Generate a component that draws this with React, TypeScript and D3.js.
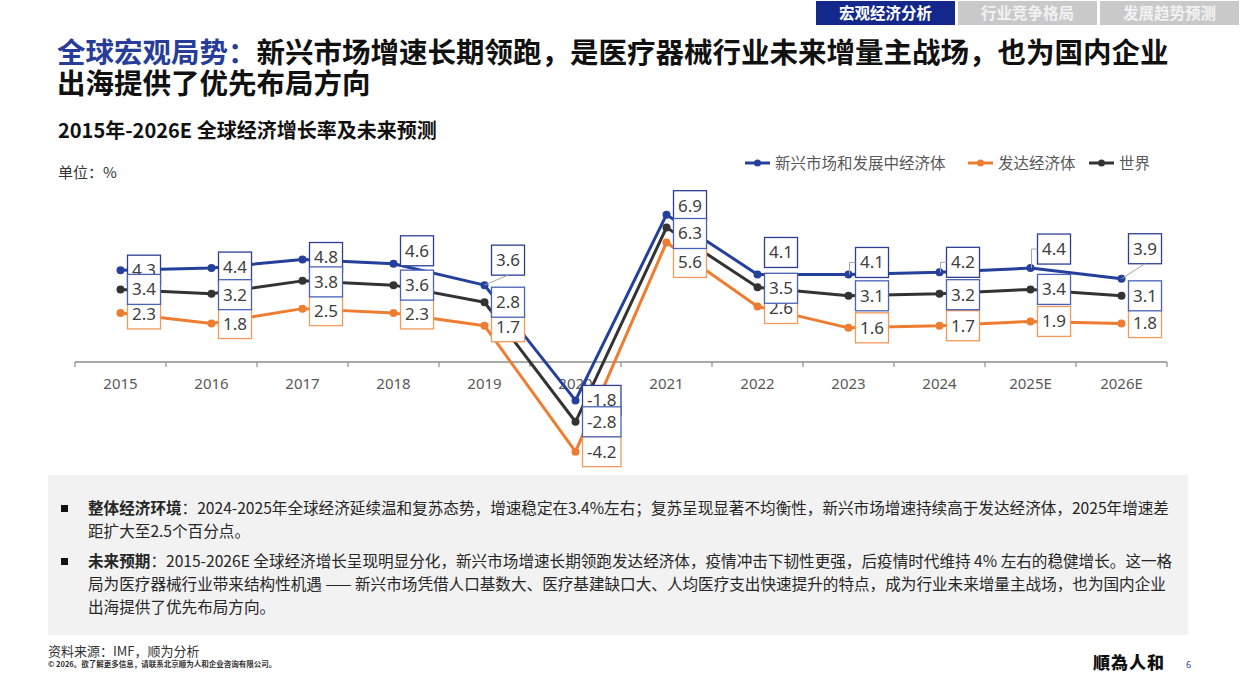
import React, { useEffect, useRef } from "react";
import * as d3 from "d3";

const years = ["2015", "2016", "2017", "2018", "2019", "2020", "2021", "2022", "2023", "2024", "2025E", "2026E"];
const emerging = [4.3, 4.4, 4.8, 4.6, 3.6, -1.8, 6.9, 4.1, 4.1, 4.2, 4.4, 3.9];
const developed = [2.3, 1.8, 2.5, 2.3, 1.7, -4.2, 5.6, 2.6, 1.6, 1.7, 1.9, 1.8];
const world = [3.4, 3.2, 3.8, 3.6, 2.8, -2.8, 6.3, 3.5, 3.1, 3.2, 3.4, 3.1];
const seriesNames = ["新兴市场和发展中经济体", "发达经济体", "世界"];

// label placement (vertical nudges as in the source deck)
const emergingLabelDy = [0, -1, -2, -13, -25, 0, -9, -22, -12, -10, -19, -30];
const emergingLeader = ["", "", "", "", "diag", "", "", "", "elbow", "elbow", "elbow", "diag"];
const developedLabelDy = [1, 0, 2, 1, 1, 0, 20, 2, 0, 0, 0, -1];
const worldLabelDy = [0, 1, 1, 0, 0, 0, 6, 1, 0, 1, 0, 0];

const tabs = ["宏观经济分析", "行业竞争格局", "发展趋势预测"];

const BLUE = "#24409b";
const ORANGE = "#ee7d31";
const BLACK = "#333333";
const CJK = '"Noto Sans CJK SC", "Noto Sans", sans-serif';

const App = () => {
	const chartRef = useRef<SVGGElement>(null);

	useEffect(() => {
		const g = d3.select(chartRef.current);
		g.selectAll("*").remove();

		const x = d3.scaleBand().domain(years).range([75, 1167]).padding(0);
		const cx = (d: string) => (x(d) as number) + x.bandwidth() / 2;
		const y = d3.scaleLinear().domain([-5, 8]).range([362 + 5 * 21.35, 362 - 8 * 21.35]);

		// axis
		g.append("line")
			.attr("x1", 75)
			.attr("x2", 1167)
			.attr("y1", y(0))
			.attr("y2", y(0))
			.attr("stroke", "#8c8c8c")
			.attr("stroke-width", 1.5);
		const bounds = years.map((d) => x(d) as number).concat([1167]);
		g.selectAll(".tick")
			.data(bounds)
			.enter()
			.append("line")
			.attr("x1", (d) => d)
			.attr("x2", (d) => d)
			.attr("y1", y(0))
			.attr("y2", y(0) + 5)
			.attr("stroke", "#8c8c8c")
			.attr("stroke-width", 1.2);
		g.selectAll(".xlab")
			.data(years)
			.enter()
			.append("text")
			.attr("x", cx)
			.attr("y", 389)
			.attr("text-anchor", "middle")
			.style("font-family", '"Noto Sans", sans-serif')
			.style("font-size", "15px")
			.style("fill", "#595959")
			.text((d) => d);

		const series = [
			{ values: emerging, color: BLUE, box: "#2c3f95", dy: emergingLabelDy },
			{ values: developed, color: ORANGE, box: "#f29a5a", dy: developedLabelDy },
			{ values: world, color: BLACK, box: "#4a63b8", dy: worldLabelDy },
		];

		const line = d3
			.line<number>()
			.x((_, i) => cx(years[i]))
			.y((d) => y(d));

		series.forEach((s) => {
			g.append("path")
				.attr("d", line(s.values))
				.attr("fill", "none")
				.attr("stroke", s.color)
				.attr("stroke-width", 3)
				.attr("stroke-linejoin", "round");
			g.selectAll(null)
				.data(s.values)
				.enter()
				.append("circle")
				.attr("cx", (_, i) => cx(years[i]))
				.attr("cy", (d) => y(d))
				.attr("r", 4)
				.attr("fill", s.color);
		});

		// data labels
		series.forEach((s, si) => {
			s.values.forEach((v, i) => {
				const px = cx(years[i]);
				const py = y(v);
				const lg = g.append("g");
				const t = lg
					.append("text")
					.attr("y", py + s.dy[i])
					.attr("dy", "0.35em")
					.style("font-family", '"Noto Sans", sans-serif')
					.style("font-size", "17px")
					.style("fill", "#404040")
					.text(v.toFixed(1));
				const w = (t.node() as SVGTextElement).getComputedTextLength() + 9;
				const left = px + 7;
				const top = py + s.dy[i] - 15;
				t.attr("x", left + w / 2).attr("text-anchor", "middle");
				if (si === 0 && emergingLeader[i]) {
					const path =
						emergingLeader[i] === "diag"
							? `M${px},${py}L${left + w / 2},${top + 30}`
							: `M${px + 1},${py}L${px + 1},${top + 15}L${left},${top + 15}`;
					lg.append("path")
						.attr("d", path)
						.attr("fill", "none")
						.attr("stroke", "#a6a6a6")
						.attr("stroke-width", 1);
				}
				lg.insert("rect", "text")
					.attr("x", left)
					.attr("y", top)
					.attr("width", w)
					.attr("height", 30)
					.attr("fill", "#fff")
					.attr("stroke", s.box)
					.attr("stroke-width", 1.3);
			});
		});
	}, []);

	const legend = [
		{ name: seriesNames[0], color: BLUE, x: 745 },
		{ name: seriesNames[1], color: ORANGE, x: 968 },
		{ name: seriesNames[2], color: BLACK, x: 1089 },
	];

	const bodyStyle = { fontFamily: CJK, fontSize: "15.6px", fill: "#262626" } as const;

	return (
		<svg
			width={1240}
			height={697}
			style={{ position: "absolute", left: 0, top: 0, background: "#fff" }}>
			{/* tabs */}
			{tabs.map((t, i) => (
				<g key={t}>
					<rect x={816 + i * 142} y={1} width={139} height={24} fill={i === 0 ? "#13288a" : "#c9c9c9"} />
					<text
						x={816 + i * 142 + 69.5}
						y={19}
						textAnchor="middle"
						style={{ fontFamily: CJK, fontSize: "15.5px", fontWeight: 700, fill: i === 0 ? "#fff" : "#f2f2f2" }}>
						{t}
					</text>
				</g>
			))}

			{/* title */}
			<text x={57} y={63} style={{ fontFamily: CJK, fontSize: "28.5px", fontWeight: 700, fill: "#111" }}>
				<tspan fill="#283c9a">全球宏观局势：</tspan>新兴市场增速长期领跑，是医疗器械行业未来增量主战场，也为国内企业
			</text>
			<text x={57} y={94} style={{ fontFamily: CJK, fontSize: "28.5px", fontWeight: 700, fill: "#111" }}>
				出海提供了优先布局方向
			</text>
			<text x={58} y={138} style={{ fontFamily: CJK, fontSize: "20px", fontWeight: 700, fill: "#111" }}>
				2015年-2026E 全球经济增长率及未来预测
			</text>
			<text x={58} y={178} style={{ fontFamily: CJK, fontSize: "15px", fill: "#333" }}>
				单位：%
			</text>

			{/* legend */}
			{legend.map((l) => (
				<g key={l.name}>
					<line x1={l.x} x2={l.x + 25} y1={163} y2={163} stroke={l.color} strokeWidth={3} />
					<circle cx={l.x + 12.5} cy={163} r={3.5} fill={l.color} />
					<text x={l.x + 30} y={168.5} style={{ fontFamily: CJK, fontSize: "15.5px", fill: "#595959" }}>
						{l.name}
					</text>
				</g>
			))}

			<g ref={chartRef} />

			{/* commentary box */}
			<rect x={48} y={475} width={1140} height={160} fill="#f2f2f2" />
			<rect x={61} y={505} width={7} height={7} fill="#111" />
			<rect x={61} y={558} width={7} height={7} fill="#111" />
			<text x={88} y={514} style={bodyStyle}>
				<tspan fontWeight={700}>整体经济环境</tspan>：2024-2025年全球经济延续温和复苏态势，增速稳定在3.4%左右；复苏呈现显著不均衡性，新兴市场增速持续高于发达经济体，2025年增速差
			</text>
			<text x={88} y={537} style={bodyStyle}>
				距扩大至2.5个百分点。
			</text>
			<text x={88} y={567} style={bodyStyle}>
				<tspan fontWeight={700}>未来预期</tspan>：2015-2026E 全球经济增长呈现明显分化，新兴市场增速长期领跑发达经济体，疫情冲击下韧性更强，后疫情时代维持 4% 左右的稳健增长。这一格
			</text>
			<text x={88} y={590} style={bodyStyle}>
				局为医疗器械行业带来结构性机遇 —— 新兴市场凭借人口基数大、医疗基建缺口大、人均医疗支出快速提升的特点，成为行业未来增量主战场，也为国内企业
			</text>
			<text x={88} y={613} style={bodyStyle}>
				出海提供了优先布局方向。
			</text>

			{/* footer */}
			<text x={48} y={656} style={{ fontFamily: CJK, fontSize: "13px", fill: "#333" }}>
				资料来源：IMF，顺为分析
			</text>
			<text x={48} y={667} style={{ fontFamily: CJK, fontSize: "7.5px", fontWeight: 700, fill: "#333" }}>
				© 2026。欲了解更多信息，请联系北京顺为人和企业咨询有限公司。
			</text>
			<text x={1093} y={669} style={{ fontFamily: CJK, fontSize: "17px", fontWeight: 900, fill: "#111", letterSpacing: "1px" }}>
				順為人和
			</text>
			<text x={1186} y={668} style={{ fontFamily: '"Noto Sans", sans-serif', fontSize: "9px", fill: "#2a3d9a" }}>
				6
			</text>
		</svg>
	);
};

export default App;
